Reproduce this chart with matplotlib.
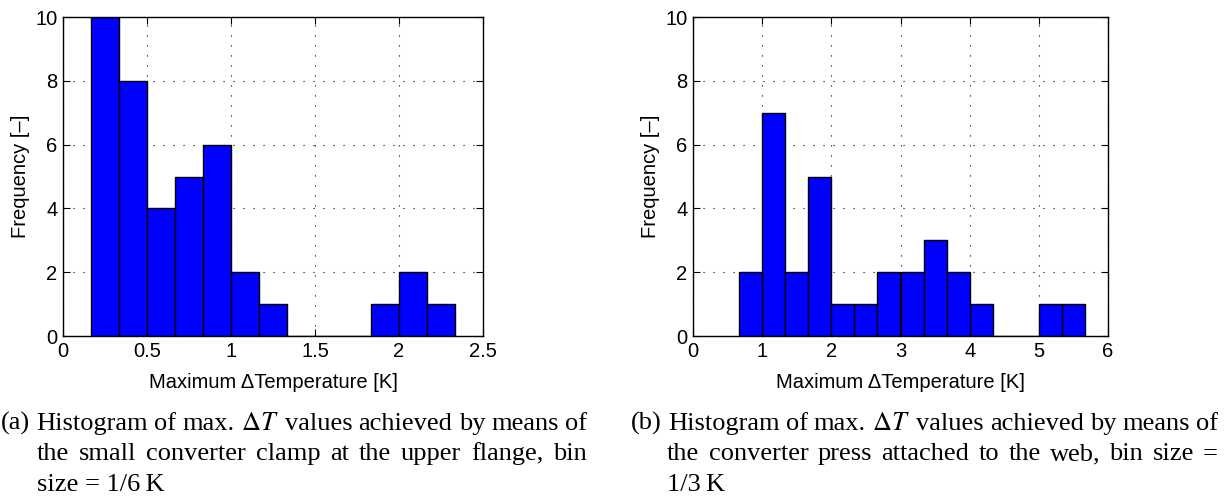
import matplotlib
matplotlib.use("Agg")
import matplotlib.pyplot as plt
import numpy as np

# histogram (a): bin size 1/6 K, first edge at 1/6
counts_a = [10, 8, 4, 5, 6, 2, 1, 0, 0, 0, 1, 2, 1]
start_a, width_a = 1 / 6, 1 / 6
xticks_a = [0, 0.5, 1, 1.5, 2, 2.5]
xtick_labels_a = ["0", "0.5", "1", "1.5", "2", "2.5"]

# histogram (b): bin size 1/3 K, first edge at 2/3
counts_b = [2, 7, 2, 5, 1, 1, 2, 2, 3, 2, 1, 0, 0, 1, 1]
start_b, width_b = 2 / 3, 1 / 3
xticks_b = [0, 1, 2, 3, 4, 5, 6]
xtick_labels_b = ["0", "1", "2", "3", "4", "5", "6"]

yticks = [0, 2, 4, 6, 8, 10]

caption_a = ["(a) Histogram of max. $\\Delta T$ values achieved by means of",
             "the small converter clamp at the upper flange, bin",
             "size = 1/6\u2009K"]
caption_b = ["(b) Histogram of max. $\\Delta T$ values achieved by means of",
             "the converter press attached to the web, bin size =",
             "1/3\u2009K"]

plt.rcParams['font.family'] = ['Liberation Sans', 'DejaVu Sans']
plt.rcParams['mathtext.fontset'] = 'stix'

W, H = 1227, 498
fig = plt.figure(figsize=(W / 100, H / 100), dpi=100)
renderer = fig.canvas.get_renderer()


def px_axes(x0, y0, x1, y1):
    return fig.add_axes([x0 / W, 1 - y1 / H, (x1 - x0) / W, (y1 - y0) / H])


def draw_hist(ax, counts, start, width, xticks, xlabels):
    edges = start + width * np.arange(len(counts))
    ax.bar(edges, counts, width=width, align='edge', color='#0000ff',
           edgecolor='black', linewidth=1.0, zorder=3)
    ax.set_xlim(xticks[0], xticks[-1])
    ax.set_ylim(0, 10)
    ax.set_xticks(xticks)
    ax.set_xticklabels(xlabels)
    ax.set_yticks(yticks)
    ax.grid(True, color='black', linestyle=(0, (1, 8)), linewidth=0.8, zorder=0)
    ax.tick_params(direction='in', top=True, right=True, length=5,
                   labelsize=14.5, pad=4)
    for s in ax.spines.values():
        s.set_linewidth(1.0)
        s.set_zorder(4)
    ax.set_xlabel("Maximum \u0394Temperature [K]", fontsize=14.5, labelpad=9)
    ax.set_ylabel("Frequency [\u2013]", fontsize=14.5, labelpad=4)


ax1 = px_axes(63, 17, 483, 336)
draw_hist(ax1, counts_a, start_a, width_a, xticks_a, xtick_labels_a)
ax2 = px_axes(693, 17, 1108, 336)
draw_hist(ax2, counts_b, start_b, width_b, xticks_b, xtick_labels_b)

serif = ['Liberation Serif', 'DejaVu Serif']
baselines = [430, 460, 491]


def put_word(x, y, s):
    t = fig.text(x / W, 1 - y / H, s, family=serif, fontsize=19,
                 va='baseline', ha='left')
    return t.get_window_extent(renderer).width


for x0, right, lines in [(1, 587, caption_a), (631, 1218, caption_b)]:
    for i, line in enumerate(lines):
        x = x0 if i == 0 else x0 + 36
        y = baselines[i]
        if i == 2:
            put_word(x, y, line)
            continue
        # justified line: words spread to the right edge
        words = line.replace("$\\Delta T$", "$\\Delta\\,T$").split(" ")
        words = [w.replace("$\\Delta\\,T$", "$\\Delta T$") for w in words]
        widths = []
        for w in words:
            t = fig.text(0, 0, w, family=serif, fontsize=19)
            widths.append(t.get_window_extent(renderer).width)
            t.remove()
        gap = (right - x - sum(widths)) / (len(words) - 1)
        for w, wd in zip(words, widths):
            put_word(x, y, w)
            x += wd + gap

fig.savefig("out.png", dpi=100)
